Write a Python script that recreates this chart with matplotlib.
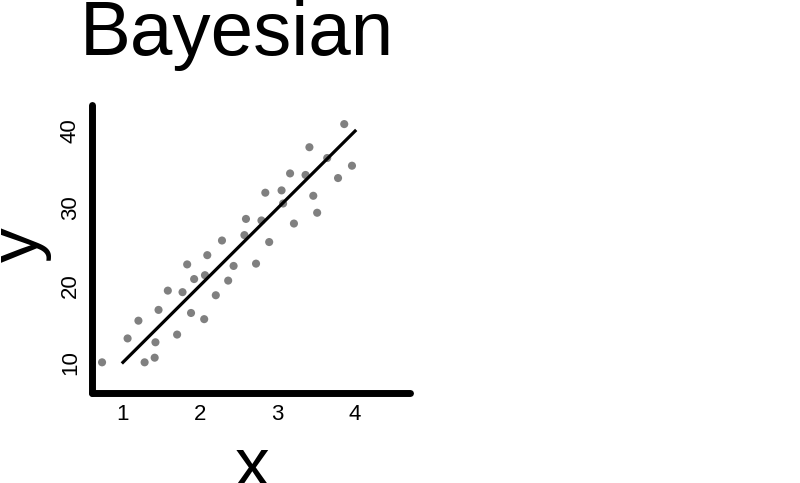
import numpy as np
import matplotlib.pyplot as plt

plt.rcParams['font.family'] = ['Liberation Sans', 'DejaVu Sans']

# observed points
x_obs = [0.73, 1.28, 1.41, 1.42, 1.06, 1.20, 1.46, 1.70, 1.58, 1.77, 1.88, 2.05, 1.83,
         1.92, 2.06, 2.09, 2.20, 2.36, 2.43, 2.28, 2.57, 2.59, 2.72, 2.79, 2.89, 2.84,
         3.05, 3.07, 3.16, 3.21, 3.36, 3.41, 3.46, 3.51, 3.64, 3.78, 3.86, 3.96]
y_obs = [10.0, 10.0, 10.6, 12.6, 13.1, 15.4, 16.8, 13.6, 19.3, 19.1, 16.4, 15.6, 22.7,
         20.8, 21.3, 23.9, 18.7, 20.6, 22.5, 25.8, 26.5, 28.6, 22.8, 28.4, 25.6, 32.0,
         32.3, 30.6, 34.5, 28.0, 34.3, 37.9, 31.6, 29.4, 36.5, 33.9, 40.9, 35.5]

# fitted line
x_fit = [1, 4]
y_fit = [10, 40]

x_ticks = [1, 2, 3, 4]
y_ticks = [10, 20, 30, 40]

fig = plt.figure(figsize=(8, 4.83), dpi=100)
ax = fig.add_axes([0.115, 0.186, 0.3975, 0.597])

ax.scatter(x_obs, y_obs, s=34, color='#808080', edgecolors='none', zorder=2)
ax.plot(x_fit, y_fit, color='black', lw=2.3, zorder=3)

ax.set_xlim(0.6, 4.71)
ax.set_ylim(6, 43.4)
ax.set_xticks(x_ticks)
ax.set_yticks(y_ticks)
ax.tick_params(length=0, labelsize=16, pad=8)
for lab in ax.get_yticklabels():
    lab.set_rotation(90)
    lab.set_va('center')

for side in ['top', 'right']:
    ax.spines[side].set_visible(False)
for side in ['left', 'bottom']:
    ax.spines[side].set_linewidth(5)
    ax.spines[side].set_capstyle('round')

fig.text(237 / 800, 1 - 55 / 483, 'Bayesian', fontsize=55, ha='center', va='baseline')
fig.text(252 / 800, 1 - 468 / 483, 'x', fontsize=50, ha='center', va='center')
fig.text(20 / 800, 1 - 245 / 483, 'y', fontsize=50, ha='center', va='center', rotation=90)

fig.savefig('out.png', dpi=100)
